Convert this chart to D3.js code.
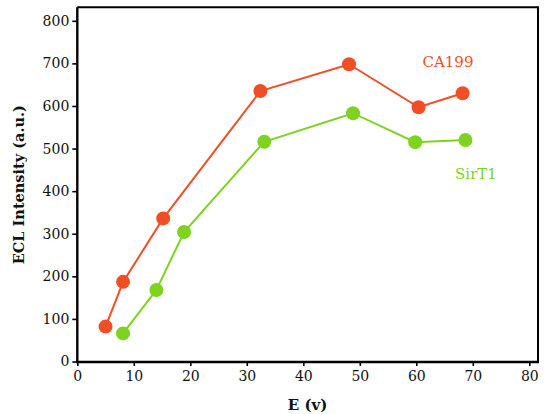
<!DOCTYPE html>
<html>
<head>
<meta charset="utf-8">
<script src="https://cdn.jsdelivr.net/npm/d3@7"></script>
<style>
  body { margin: 0; background: #fff; }
  svg text { font-family: "DejaVu Serif", "Liberation Serif", serif; }
</style>
</head>
<body>
<div id="chart"></div>
<script>
// data
const caX = [5.0, 8.1, 15.2, 32.4, 48.1, 60.4, 68.2];
const caY = [82, 187, 336, 635, 698, 597, 630];
const sirX = [8.1, 14.0, 18.9, 33.1, 48.8, 59.8, 68.7];
const sirY = [66, 168, 304, 516, 583, 515, 520];
const xTicks = [0, 10, 20, 30, 40, 50, 60, 70, 80];
const yTicks = [0, 100, 200, 300, 400, 500, 600, 700, 800];

const series = [
  { name: "CA199", color: "#f04f25", xs: caX, ys: caY, lx: 448, ly: 67 },
  { name: "SirT1", color: "#7ed321", xs: sirX, ys: sirY, lx: 476, ly: 179 }
];

const width = 546;
const height = 414;
const marginLeft = 77.3;
const marginRight = 8;
const marginTop = 7.3;
const marginBottom = 52;

const x = d3.scaleLinear()
  .domain([0, 80])
  .range([marginLeft, 529.3]);

const y = d3.scaleLinear()
  .domain([0, 800])
  .range([361.5, 20.8]);

const svg = d3.select("#chart")
  .append("svg")
  .attr("width", width)
  .attr("height", height)
  .attr("viewBox", [0, 0, width, height]);

const right = width - marginRight;
const bottom = height - marginBottom;

// frame (top / right)
svg.append("path")
  .attr("d", `M${marginLeft},${marginTop}H${right}V${bottom}`)
  .attr("fill", "none")
  .attr("stroke", "#000")
  .attr("stroke-width", 2);

// x axis
svg.append("g")
  .attr("transform", `translate(0,${bottom})`)
  .call(d3.axisBottom(x).tickValues(xTicks).tickSize(4).tickSizeOuter(0).tickPadding(5))
  .call(g => g.select(".domain").attr("d", `M${marginLeft - 1},0H${right + 1}`).attr("stroke-width", 2.4))
  .call(g => g.selectAll(".tick line").attr("stroke-width", 1.6))
  .call(g => g.selectAll(".tick text").attr("font-size", 14).attr("fill", "#111"));

// y axis
svg.append("g")
  .attr("transform", `translate(${marginLeft},0)`)
  .call(d3.axisLeft(y).tickValues(yTicks).tickSize(5).tickSizeOuter(0).tickPadding(3))
  .call(g => g.select(".domain").attr("d", `M0,${marginTop}V${bottom + 1}`).attr("stroke-width", 2.4))
  .call(g => g.selectAll(".tick line").attr("stroke-width", 1.6))
  .call(g => g.selectAll(".tick text").attr("font-size", 14).attr("fill", "#111"));

// axis titles
svg.append("text")
  .attr("x", (marginLeft + right) / 2)
  .attr("y", 410)
  .attr("text-anchor", "middle")
  .attr("font-size", 15)
  .attr("font-weight", "bold")
  .attr("fill", "#111")
  .text("E (v)");

svg.append("text")
  .attr("transform", `translate(24,${(marginTop + bottom) / 2}) rotate(-90)`)
  .attr("text-anchor", "middle")
  .attr("font-size", 14.5)
  .attr("font-weight", "bold")
  .attr("fill", "#111")
  .text("ECL Intensity (a.u.)");

const line = d3.line().x(d => x(d[0])).y(d => y(d[1]));

series.forEach(s => {
  const pts = s.xs.map((v, i) => [v, s.ys[i]]);
  svg.append("path")
    .datum(pts)
    .attr("d", line)
    .attr("fill", "none")
    .attr("stroke", s.color)
    .attr("stroke-width", 2);
  svg.append("g")
    .selectAll("circle")
    .data(pts)
    .join("circle")
    .attr("cx", d => x(d[0]))
    .attr("cy", d => y(d[1]))
    .attr("r", 7)
    .attr("fill", s.color);
  svg.append("text")
    .attr("x", s.lx)
    .attr("y", s.ly)
    .attr("text-anchor", "middle")
    .attr("font-size", 15)
    .attr("fill", s.color)
    .text(s.name);
});
</script>
</body>
</html>
